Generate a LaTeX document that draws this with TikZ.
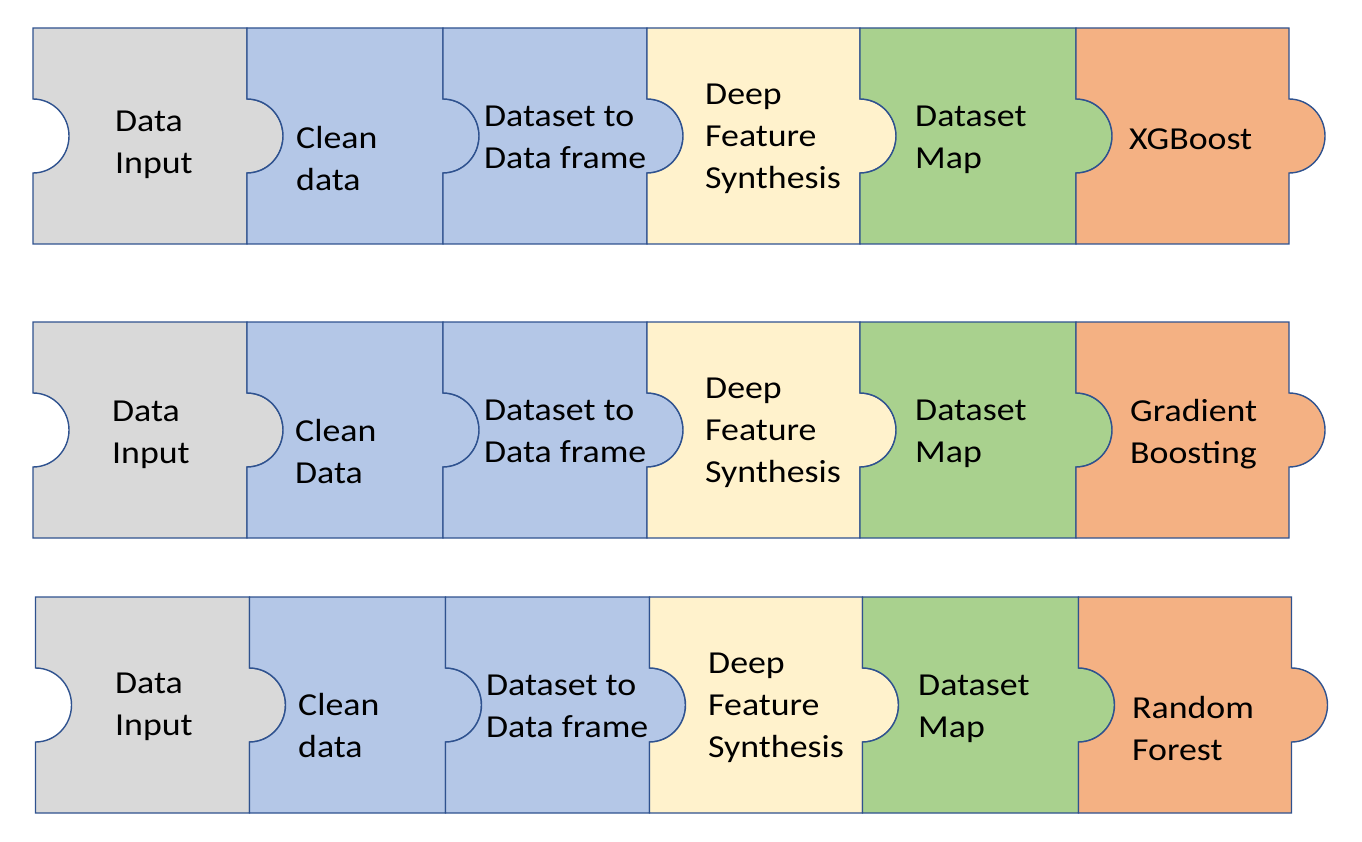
\documentclass[tikz,border=0pt]{standalone}
\usepackage{fontspec}
\setmainfont{Carlito}[FakeStretch=1.12]
\usepackage{tikz}
\usetikzlibrary{positioning}
\definecolor{inputgray}{HTML}{D9D9D9}
\definecolor{cleanblue}{HTML}{B4C7E7}
\definecolor{featurecream}{HTML}{FFF2CC}
\definecolor{mapgreen}{HTML}{A9D18E}
\definecolor{modelorange}{HTML}{F4B183}
\definecolor{outlineblue}{HTML}{2F528F}
\tikzset{
  piecedraw/.style={draw=outlineblue, line width=1.4pt, line join=miter},
  pics/piece/.style args={#1/#2}{code={
    \draw[piecedraw, fill=#2] (0,0) -- (#1,0) -- (#1,71)
      arc[start angle=-90, end angle=90, x radius=36, y radius=37]
      -- (#1,216) -- (0,216) -- (0,145)
      arc[start angle=90, end angle=-90, x radius=36, y radius=37] -- cycle;
  }},
  stage/.style={anchor=north west, inner sep=0pt, align=left, font=\fontsize{32}{42}\selectfont}
}

\begin{document}
\begin{tikzpicture}[x=1pt, y=-1pt]
\useasboundingbox (0,0) rectangle (1362,842);
% first pipeline
\pic at (33,28) {piece={214/inputgray}};
\pic at (247,28) {piece={196/cleanblue}};
\pic at (443,28) {piece={204/cleanblue}};
\pic at (647,28) {piece={213/featurecream}};
\pic at (860,28) {piece={216/mapgreen}};
\pic at (1076,28) {piece={213/modelorange}};
\node[stage] (in1) at (115,110.5) {Data\\Input};
\node[stage] (cl1) at (296,126.5) {Clean\\data};
\node[stage] (df1) at (484,105.5) {Dataset to\\Data frame};
\node[stage] (dfs1) at (705,83.5) {Deep\\Feature\\Synthesis};
\node[stage] (map1) at (915,105.5) {Dataset\\Map};
\node[stage] (xgb) at (1129,129) {XGBoost};
% second pipeline
\pic at (33,322) {piece={214/inputgray}};
\pic at (247,322) {piece={196/cleanblue}};
\pic at (443,322) {piece={204/cleanblue}};
\pic at (647,322) {piece={213/featurecream}};
\pic at (860,322) {piece={216/mapgreen}};
\pic at (1076,322) {piece={213/modelorange}};
\node[stage] (in2) at (112,400.5) {Data\\Input};
\node[stage] (cl2) at (295,419.5) {Clean\\Data};
\node[stage] (df2) at (484,399.5) {Dataset to\\Data frame};
\node[stage] (dfs2) at (705,377.5) {Deep\\Feature\\Synthesis};
\node[stage] (map2) at (915,399.5) {Dataset\\Map};
\node[stage] (gb) at (1130,399.5) {Gradient\\Boosting};
% third pipeline
\pic at (35.5,597) {piece={214/inputgray}};
\pic at (249.5,597) {piece={196/cleanblue}};
\pic at (445.5,597) {piece={204/cleanblue}};
\pic at (649.5,597) {piece={213/featurecream}};
\pic at (862.5,597) {piece={216/mapgreen}};
\pic at (1078.5,597) {piece={213/modelorange}};
\node[stage] (in3) at (115,672.5) {Data\\Input};
\node[stage] (cl3) at (298,693.5) {Clean\\data};
\node[stage] (df3) at (486,674.5) {Dataset to\\Data frame};
\node[stage] (dfs3) at (708,652.5) {Deep\\Feature\\Synthesis};
\node[stage] (map3) at (918,674.5) {Dataset\\Map};
\node[stage] (rf) at (1132,696.5) {Random\\Forest};
\end{tikzpicture}
\end{document}
